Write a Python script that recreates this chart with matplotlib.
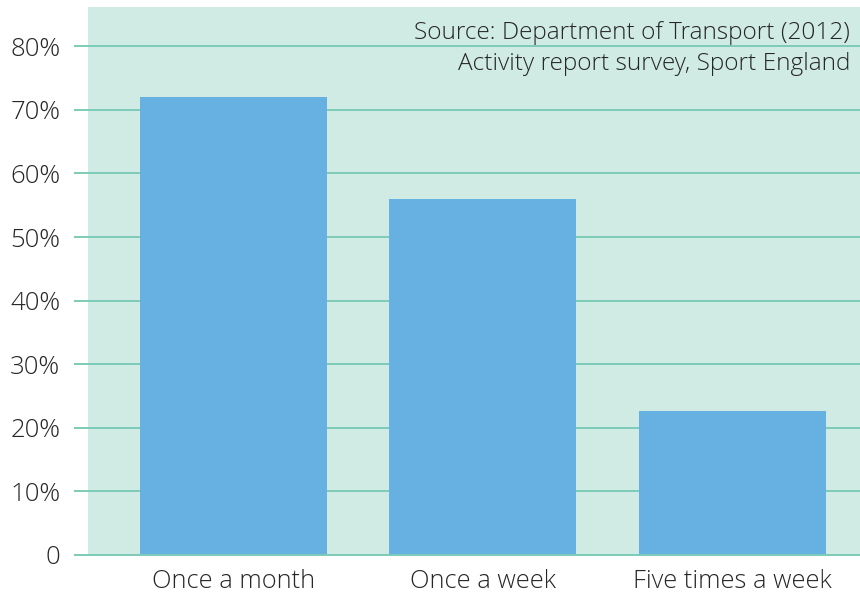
import matplotlib
matplotlib.use("Agg")
import matplotlib.pyplot as plt

categories = ["Once a month", "Once a week", "Five times a week"]
values = [72, 56, 22.6]
yticks = [0, 10, 20, 30, 40, 50, 60, 70, 80]
ytick_labels = ["0", "10%", "20%", "30%", "40%", "50%", "60%", "70%", "80%"]
source_lines = ["Source: Department of Transport (2012)", "Activity report survey, Sport England"]

plt.rcParams['font.family'] = ['Open Sans', 'DejaVu Sans']
plt.rcParams['font.weight'] = 'light'

W, H = 860, 594
fig = plt.figure(figsize=(W / 100, H / 100), dpi=100)
ax = fig.add_axes([88 / W, 1 - 554.7 / H, (860 - 88) / W, (554.7 - 7) / H])

bg = "#d0ebe4"
grid = "#7ccbb8"
bar = "#67b0e2"
txt = "#262626"

ax.set_facecolor(bg)
x = list(range(len(categories)))
ax.bar(x, values, width=0.75, color=bar, zorder=3)
ax.set_xlim(-0.583, 2.512)
ax.set_ylim(0, 86.2)
ax.set_yticks(yticks)
ax.set_yticklabels(ytick_labels)
ax.set_xticks(x)
ax.set_xticklabels(categories)
ax.yaxis.grid(True, color=grid, linewidth=1.4, zorder=1)
ax.set_axisbelow(True)
for s in ["top", "right", "left"]:
    ax.spines[s].set_visible(False)
ax.spines["bottom"].set_color(grid)
ax.spines["bottom"].set_linewidth(1.4)
ax.spines["bottom"].set_zorder(4)
ax.tick_params(axis="y", length=10, width=1.4, color=grid, pad=10, labelsize=18.5, labelcolor=txt)
ax.tick_params(axis="x", length=0, pad=10, labelsize=18.3, labelcolor=txt)

ax.text(0.987, 0.975, source_lines[0], transform=ax.transAxes, ha="right", va="top",
        fontsize=17.6, color=txt, zorder=5)
ax.text(0.987, 0.918, source_lines[1], transform=ax.transAxes, ha="right", va="top",
        fontsize=17.6, color=txt, zorder=5)

fig.savefig("out.png", dpi=100)
